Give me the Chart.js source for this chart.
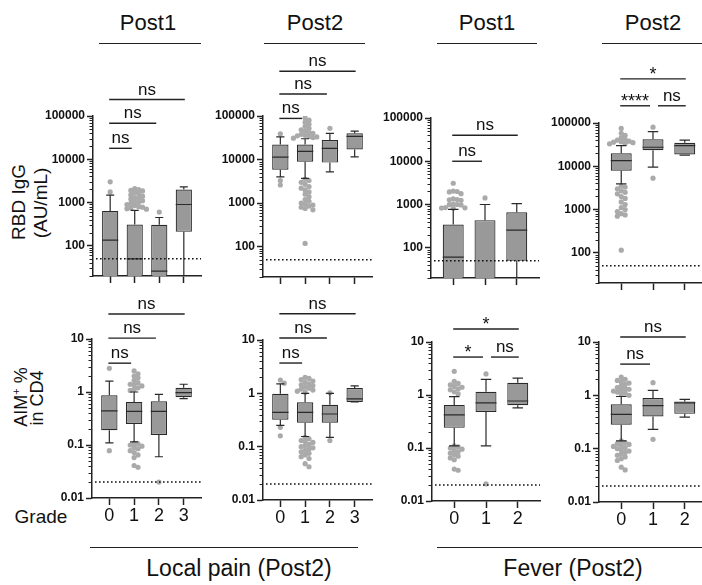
<!DOCTYPE html>
<html>
<head>
<meta charset="utf-8">
<script src="https://cdn.jsdelivr.net/npm/chart.js@4.4.1/dist/chart.umd.min.js"></script>
<style>
body { margin: 0; background: #fff; font-family: "Liberation Sans", Arial, sans-serif; color: #111; }
#wrap { position: relative; width: 702px; height: 585px; overflow: hidden; }
canvas { position: absolute; }
.ttl { position: absolute; width: 120px; text-align: center; font-size: 22px; line-height: 26px; }
.hl { position: absolute; height: 0; border-top: 1.5px solid #222; }
.rot { position: absolute; white-space: nowrap; line-height: 1; transform: translate(-50%, -50%) rotate(-90deg); }
.lbl { position: absolute; white-space: nowrap; line-height: 1; transform: translate(-50%, -50%); }
</style>
</head>
<body>
<div id="wrap">
  <div class="ttl" style="left:88px;top:10px">Post1</div>
  <div class="ttl" style="left:255px;top:10px">Post2</div>
  <div class="ttl" style="left:427px;top:10px">Post1</div>
  <div class="ttl" style="left:593px;top:10px">Post2</div>
  <div class="hl" style="left:99px;top:43px;width:102px"></div>
  <div class="hl" style="left:264px;top:43px;width:101px"></div>
  <div class="hl" style="left:437px;top:43px;width:100px"></div>
  <div class="hl" style="left:602px;top:43px;width:100px"></div>

  <div class="rot" style="left:18px;top:202px;font-size:19px">RBD IgG</div>
  <div class="rot" style="left:40px;top:203px;font-size:19px">(AU/mL)</div>
  <div class="rot" style="left:20px;top:397px;font-size:18px">AIM<sup style="font-size:11px">+</sup> %</div>
  <div class="rot" style="left:37px;top:398px;font-size:18px">in CD4</div>

  <div class="lbl" style="left:41px;top:516px;font-size:19px">Grade</div>
  <div class="hl" style="left:90px;top:547px;width:268px"></div>
  <div class="hl" style="left:437px;top:547px;width:265px"></div>
  <div class="lbl" style="left:239px;top:568px;font-size:23px">Local pain (Post2)</div>
  <div class="lbl" style="left:573px;top:568px;font-size:23px">Fever (Post2)</div>
</div>
<script>
const grades4 = ['0', '1', '2', '3'];
const grades3 = ['0', '1', '2'];
const igTicks = [100, 1000, 10000, 100000];
const aimTicks = [0.01, 0.1, 1, 10];
const igRange = [20, 100000];
const aimRange = [0.01, 10];
const igLimit = 50;
const aimLimit = 0.02;

// box per grade: [min, q1, median, q3, max]
const painIgG1 = [[5, 5, 135, 640, 1480], [5, 5, 50, 310, 660], [5, 5, 26, 305, 450], [5, 210, 900, 2000, 2300]];
const painIgG1Out = [[3000, 1760],
  [2100, 2000, 1900, 1850, 1700, 1600, 1500, 1400, 1300, 1250, 1200, 1100, 1050, 1000, 950, 900, 850, 800, 780, 750, 720, 700],
  [600], []];
const painIgG1Sig = [[0, 1, 'ns', 17900], [0, 2, 'ns', 68000], [0, 3, 'ns', 240000]];

const painIgG2 = [[4000, 5800, 11400, 22000, 33000], [3700, 8900, 15400, 22000, 30000], [5200, 8500, 18000, 28000, 40000], [11500, 17000, 34000, 40000, 45000]];
const painIgG2Out = [[39000, 3300, 2600],
  [90000, 80000, 72000, 65000, 58000, 52000, 48000, 45000, 42000, 40000, 38000, 36000, 35000, 34000, 33000, 32000, 31000,
   3500, 3300, 3000, 2700, 2400, 2200, 2000, 1800, 1600, 1400, 1200, 1100, 1000, 950, 900, 850, 800, 750, 700, 118],
  [52000], []];
const painIgG2Sig = [[0, 1, 'ns', 88000], [0, 2, 'ns', 320000], [0, 3, 'ns', 1070000]];

const feverIgG1 = [[5, 5, 61, 345, 770], [5, 5, 10, 435, 1000], [5, 50, 255, 660, 1050]];
const feverIgG1Out = [[3100, 2050, 2000, 1950, 1780, 1350, 1300, 1280, 1250, 1020, 1000, 990, 980, 850, 840, 830, 820], [1420], []];
const feverIgG1Sig = [[0, 1, 'ns', 10000], [0, 2, 'ns', 40000]];

const feverIgG2 = [[3900, 7900, 13500, 20000, 30000], [9500, 23500, 27500, 42000, 63000], [18000, 18700, 30000, 35000, 40000]];
const feverIgG2Out = [[75000, 58000, 52000, 46000, 42000, 40000, 38000, 37000, 36000, 35000, 34000, 33000,
   3500, 3300, 3000, 2700, 2500, 2300, 2000, 1800, 1500, 1300, 1100, 1000, 900, 800, 750, 700, 115],
  [80000, 5300], []];
const feverIgG2Sig = [[0, 1, '****', 250000], [1, 2, 'ns', 250000], [0, 2, '*', 1050000]];

const painAim1 = [[0.11, 0.19, 0.44, 0.87, 1.6], [0.115, 0.25, 0.43, 0.65, 1.0], [0.06, 0.155, 0.43, 0.67, 0.9], [0.75, 0.8, 0.97, 1.2, 1.4]];
const painAim1Out = [[2.8, 0.078],
  [2.5, 2.2, 2.0, 1.85, 1.65, 1.5, 1.4, 1.35, 1.3, 1.2, 1.12, 1.07, 0.107, 0.105, 0.1, 0.095, 0.09, 0.085, 0.078, 0.072, 0.065, 0.058, 0.041, 0.038],
  [0.02], []];
const painAim1Sig = [[0, 1, 'ns', 3.5], [0, 2, 'ns', 10.4], [0, 3, 'ns', 29.6]];

const painAim2 = [[0.25, 0.32, 0.44, 0.98, 1.5], [0.155, 0.28, 0.44, 0.68, 1.0], [0.15, 0.28, 0.41, 0.61, 1.0], [0.69, 0.69, 0.79, 1.26, 1.38]];
const painAim2Out = [[1.78, 1.55, 0.23, 0.16],
  [2.0, 1.9, 1.8, 1.7, 1.6, 1.5, 1.45, 1.4, 1.3, 1.25, 1.2, 1.15, 1.1, 1.05,
   0.15, 0.14, 0.13, 0.125, 0.12, 0.11, 0.105, 0.1, 0.095, 0.09, 0.085, 0.08, 0.075, 0.07, 0.065, 0.06, 0.048, 0.042],
  [1.02, 0.13], []];
const painAim2Sig = [[0, 1, 'ns', 3.7], [0, 2, 'ns', 10.9], [0, 3, 'ns', 31]];

const feverAim1 = [[0.11, 0.24, 0.42, 0.65, 0.93], [0.11, 0.48, 0.71, 1.15, 1.97], [0.57, 0.64, 0.77, 1.7, 2.08]];
const feverAim1Out = [[2.8, 1.8, 1.65, 1.55, 1.45, 1.4, 1.3, 1.25, 1.15, 1.05,
   0.11, 0.105, 0.1, 0.095, 0.09, 0.085, 0.08, 0.075, 0.07, 0.065, 0.06, 0.04, 0.038],
  [2.5, 0.021], []];
const feverAim1Sig = [[0, 1, '*', 5.2], [1, 2, 'ns', 5.2], [0, 2, '*', 17.6]];

const feverAim2 = [[0.14, 0.28, 0.44, 0.68, 0.95], [0.23, 0.4, 0.64, 0.89, 1.24], [0.39, 0.45, 0.72, 0.77, 0.84]];
const feverAim2Out = [[2.2, 2.0, 1.9, 1.8, 1.7, 1.6, 1.5, 1.4, 1.35, 1.3, 1.25, 1.2, 1.15, 1.1, 1.05, 1.0,
   0.14, 0.13, 0.125, 0.12, 0.115, 0.11, 0.105, 0.1, 0.095, 0.09, 0.085, 0.08, 0.075, 0.07, 0.065, 0.06, 0.045, 0.04],
  [1.73, 0.15], []];
const feverAim2Sig = [[0, 1, 'ns', 3.85], [0, 2, 'ns', 12.4]];

const FONT = '"Liberation Sans", Arial, sans-serif';
const YW = 56, TP = 110, XH = 36, RP = 6;

// plot areas: [left, top, right, bottom]
const panels = [
  { box: painIgG1, out: painIgG1Out, sig: painIgG1Sig, grades: grades4, range: igRange, ticks: igTicks, limit: igLimit, area: [93, 116, 201, 276], showX: false },
  { box: painIgG2, out: painIgG2Out, sig: painIgG2Sig, grades: grades4, range: igRange, ticks: igTicks, limit: igLimit, area: [263, 116, 372, 277], showX: false },
  { box: feverIgG1, out: feverIgG1Out, sig: feverIgG1Sig, grades: grades3, range: igRange, ticks: igTicks, limit: igLimit, area: [431, 118, 539, 278], showX: false },
  { box: feverIgG2, out: feverIgG2Out, sig: feverIgG2Sig, grades: grades3, range: igRange, ticks: igTicks, limit: igLimit, area: [599, 123, 707, 283], showX: false },
  { box: painAim1, out: painAim1Out, sig: painAim1Sig, grades: grades4, range: aimRange, ticks: aimTicks, limit: aimLimit, area: [92, 339, 201, 498], showX: true },
  { box: painAim2, out: painAim2Out, sig: painAim2Sig, grades: grades4, range: aimRange, ticks: aimTicks, limit: aimLimit, area: [263, 340, 372, 500], showX: true },
  { box: feverAim1, out: feverAim1Out, sig: feverAim1Sig, grades: grades3, range: aimRange, ticks: aimTicks, limit: aimLimit, area: [432, 342, 540, 501], showX: true },
  { box: feverAim2, out: feverAim2Out, sig: feverAim2Sig, grades: grades3, range: aimRange, ticks: aimTicks, limit: aimLimit, area: [599, 342, 707, 502], showX: true },
];

function logTicks(range, majors) {
  const res = [];
  for (let e = Math.floor(Math.log10(range[0])); e <= Math.ceil(Math.log10(range[1])); e++) {
    for (let d = 1; d <= 9; d++) {
      let v = Number((d * Math.pow(10, e)).toPrecision(6));
      const m = majors.find(t => Math.abs(t - v) < v * 1e-9);
      if (m !== undefined) v = m;
      if (v >= range[0] && v <= range[1]) res.push({ value: v });
    }
  }
  return res;
}

// spread outliers sideways so they do not sit on top of each other
function swarm(values, pxX, pxDec) {
  const placed = [];
  const step = 3.9;
  return values.map(v => {
    const py = Math.log10(v) * pxDec;
    for (let k = 0; k < 40; k++) {
      const off = (k % 2 ? 1 : -1) * Math.ceil(k / 2) * step;
      if (placed.every(q => Math.hypot(q[0] - off, q[1] - py) >= step)) {
        placed.push([off, py]);
        return off / pxX;
      }
    }
    return 0;
  });
}

function boxPlugin(p) {
  const n = p.grades.length;
  return {
    id: 'boxes',
    afterDatasetsDraw(chart) {
      const { ctx, chartArea: a, scales: { x, y } } = chart;
      const half = x.getPixelForValue(0.33) - x.getPixelForValue(0);

      ctx.save();
      ctx.beginPath();
      ctx.rect(a.left, a.top - 2, a.right - a.left, a.bottom - a.top + 2);
      ctx.clip();
      ctx.strokeStyle = '#2a2a2a';
      ctx.lineWidth = 1.2;
      p.box.forEach((q, i) => {
        const cx = x.getPixelForValue(i);
        const yMin = y.getPixelForValue(q[0]);
        const yQ1 = y.getPixelForValue(q[1]);
        const yMed = y.getPixelForValue(q[2]);
        const yQ3 = y.getPixelForValue(q[3]);
        const yMax = y.getPixelForValue(q[4]);
        ctx.beginPath();
        ctx.moveTo(cx, yQ3); ctx.lineTo(cx, yMax);
        ctx.moveTo(cx - half / 2, yMax); ctx.lineTo(cx + half / 2, yMax);
        ctx.moveTo(cx, yQ1); ctx.lineTo(cx, yMin);
        ctx.moveTo(cx - half / 2, yMin); ctx.lineTo(cx + half / 2, yMin);
        ctx.moveTo(cx - half, yMed); ctx.lineTo(cx + half, yMed);
        ctx.stroke();
      });
      ctx.setLineDash([1.6, 2.4]);
      ctx.lineWidth = 1.5;
      ctx.strokeStyle = '#111';
      const yl = y.getPixelForValue(p.limit);
      ctx.beginPath();
      ctx.moveTo(a.left + 3, yl);
      ctx.lineTo(a.right, yl);
      ctx.stroke();
      ctx.restore();

      // minor ticks of the log axis
      ctx.save();
      ctx.strokeStyle = '#222';
      ctx.lineWidth = 1;
      y.ticks.forEach(t => {
        if (p.ticks.includes(t.value)) return;
        const py = Math.round(y.getPixelForValue(t.value)) + 0.5;
        ctx.beginPath();
        ctx.moveTo(a.left, py);
        ctx.lineTo(a.left - 3.5, py);
        ctx.stroke();
      });
      ctx.restore();

      // significance brackets
      ctx.save();
      ctx.strokeStyle = '#222';
      ctx.lineWidth = 1.4;
      ctx.fillStyle = '#111';
      ctx.textAlign = 'center';
      ctx.textBaseline = 'alphabetic';
      p.sig.forEach(([g1, g2, label, v]) => {
        const py = y.getPixelForValue(v);
        const x1 = x.getPixelForValue(g1) + (g1 > 0 ? 5 : -1);
        const x2 = x.getPixelForValue(g2) - (g2 < n - 1 ? 3 : -1);
        ctx.beginPath();
        ctx.moveTo(x1, py);
        ctx.lineTo(x2, py);
        ctx.stroke();
        const star = label.includes('*');
        ctx.font = (star ? '18px ' : '17px ') + FONT;
        ctx.fillText(label, (x1 + x2) / 2, star ? py + 1 : py - 5);
      });
      ctx.restore();
    }
  };
}

const wrap = document.getElementById('wrap');

panels.forEach(p => {
  const [l, t, r, b] = p.area;
  const n = p.grades.length;
  const cv = document.createElement('canvas');
  cv.width = YW + (r - l) + RP;
  cv.height = TP + (b - t) + XH;
  cv.style.left = (l - YW) + 'px';
  cv.style.top = (t - TP) + 'px';
  wrap.appendChild(cv);

  const pxX = (r - l) / (n + 0.4);
  const pxDec = (b - t) / (Math.log10(p.range[1]) - Math.log10(p.range[0]));
  const pts = [];
  p.out.forEach((vals, i) => {
    const offs = swarm(vals, pxX, pxDec);
    vals.forEach((v, k) => pts.push({ x: i + offs[k], y: v }));
  });

  new Chart(cv, {
    type: 'bar',
    data: {
      datasets: [
        {
          type: 'scatter',
          data: pts,
          backgroundColor: '#aaaaaa',
          pointRadius: 2.6,
          pointHoverRadius: 2.6,
          pointBorderWidth: 0
        },
        {
          type: 'bar',
          data: p.box.map((q, i) => ({ x: i, y: [q[1], q[3]] })),
          backgroundColor: '#999999',
          borderColor: '#2a2a2a',
          borderWidth: 1.2,
          borderSkipped: false,
          barPercentage: 0.66,
          categoryPercentage: 1,
          clip: 0
        }
      ]
    },
    options: {
      responsive: false,
      animation: false,
      events: [],
      layout: { padding: { top: TP, right: RP, left: 0, bottom: 0 } },
      plugins: { legend: { display: false }, tooltip: { enabled: false } },
      scales: {
        x: {
          type: 'linear',
          min: -0.7,
          max: n - 0.3,
          offset: false,
          afterBuildTicks: s => { s.ticks = p.grades.map((g, i) => ({ value: i })); },
          afterFit: s => { s.height = XH; },
          ticks: {
            callback: v => (p.showX ? p.grades[v] : ''),
            autoSkip: false,
            maxRotation: 0,
            padding: 0,
            color: '#111',
            font: { family: FONT, size: 18 }
          },
          grid: { drawOnChartArea: false, offset: false, tickLength: 7, tickWidth: 1.5, tickColor: '#222' },
          border: { color: '#222', width: 1.5 }
        },
        y: {
          type: 'logarithmic',
          min: p.range[0],
          max: p.range[1],
          afterBuildTicks: s => { s.ticks = logTicks(p.range, p.ticks); },
          afterFit: s => { s.width = YW; },
          ticks: {
            callback: v => (p.ticks.includes(v) ? String(v) : ''),
            autoSkip: false,
            padding: 2,
            color: '#111',
            font: { family: FONT, size: 12, weight: 'bold' }
          },
          grid: {
            drawOnChartArea: false,
            tickLength: 6,
            tickWidth: 1.5,
            tickColor: c => (c.tick && p.ticks.includes(c.tick.value) ? '#222' : 'rgba(0,0,0,0)')
          },
          border: { color: '#222', width: 1.5 }
        }
      }
    },
    plugins: [boxPlugin(p)]
  });
});
</script>
</body>
</html>
